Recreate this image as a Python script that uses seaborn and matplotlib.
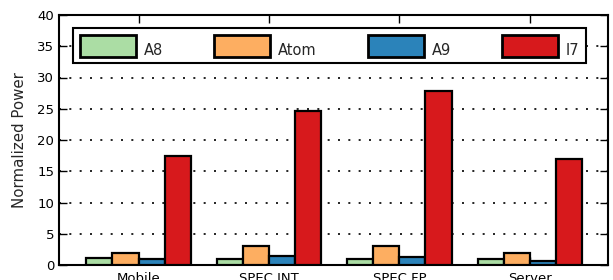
import matplotlib
matplotlib.use("Agg")
import matplotlib.pyplot as plt
import matplotlib.transforms as mtransforms
import seaborn as sns
import pandas as pd

categories = ["Mobile", "SPEC INT", "SPEC FP", "Server"]
processors = ["A8", "Atom", "A9", "I7"]
a8 = [1.15, 1.0, 1.0, 1.0]
atom = [2.0, 3.0, 3.05, 2.0]
a9 = [0.9, 1.5, 1.35, 0.7]
i7 = [17.5, 24.7, 27.9, 16.9]
colors = ["#abdda4", "#fdae61", "#2b83ba", "#d7191c"]
ylabel = "Normalized Power"
yticks = [0, 5, 10, 15, 20, 25, 30, 35, 40]

rows = []
for name, vals in zip(processors, [a8, atom, a9, i7]):
    for c, v in zip(categories, vals):
        rows.append({"Benchmark": c, "Processor": name, "Power": v})
df = pd.DataFrame(rows)

sns.set_style("white")
plt.rcParams["font.family"] = ["DejaVu Sans"]

fig = plt.figure(figsize=(6.13, 2.8), dpi=100)
ax = fig.add_axes([59 / 613, (280 - 265) / 280, (608 - 59) / 613, 250 / 280])

sns.barplot(data=df, x="Benchmark", y="Power", hue="Processor",
            hue_order=processors, order=categories, palette=colors,
            edgecolor="black", linewidth=1.6, width=0.8, ax=ax, zorder=3,
            saturation=1)

ax.set_xlim(-0.61, 3.6)
ax.set_ylim(0, 40)
ax.set_yticks(yticks)
ax.set_xlabel("")
ax.set_ylabel(ylabel, fontsize=10.8, labelpad=7)
for s in ax.spines.values():
    s.set_color("black")
    s.set_linewidth(1.5)
ax.tick_params(axis="both", direction="in", length=6, width=1, colors="black",
               labelsize=9.5, top=True, right=True, bottom=True, left=True)
ax.tick_params(axis="x", pad=5)
ax.yaxis.grid(True, color="black", linestyle=(0, (1.2, 5)), linewidth=1.2, zorder=0)
ax.xaxis.grid(False)
ax.set_axisbelow(True)

leg = ax.legend(loc="upper left", bbox_to_anchor=((73 - 59) / 549, (265 - 28) / 250),
                ncol=4, frameon=True, fancybox=False, fontsize=10.5,
                handlelength=3.84, handleheight=1.94, handletextpad=0.55,
                columnspacing=3.5, borderaxespad=0, borderpad=0.45, title=None)
leg.get_frame().set_edgecolor("black")
leg.get_frame().set_linewidth(1.5)
leg.get_frame().set_facecolor("white")
leg.get_frame().set_alpha(1)
shift = mtransforms.ScaledTranslation(0, -4.5 / 100, fig.dpi_scale_trans)
for t in leg.get_texts():
    t.set_transform(t.get_transform() + shift)
for p in leg.get_patches():
    p.set_linewidth(2.0)

fig.savefig("out.png", dpi=100)
